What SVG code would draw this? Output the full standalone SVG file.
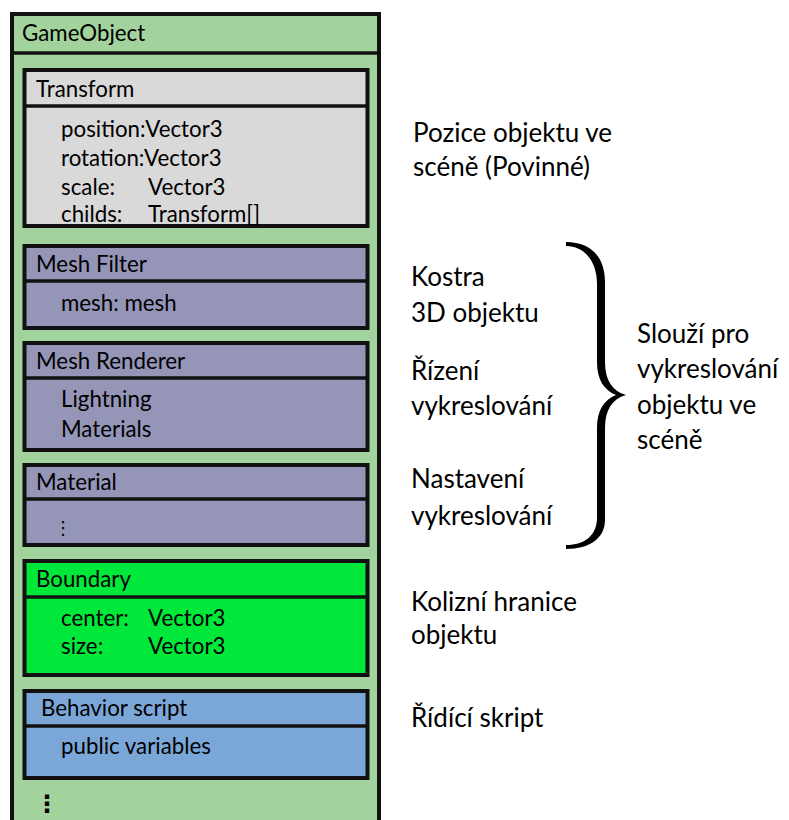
<svg xmlns="http://www.w3.org/2000/svg" width="789" height="820" viewBox="0 0 789 820">
<style>
  .t { font-family: Lato, "Open Sans", "Liberation Sans", sans-serif; font-size: 22.3px; fill: #000; }
  .r { font-family: Lato, "Open Sans", "Liberation Sans", sans-serif; font-size: 26px; fill: #000; }
  .box { stroke: #111; stroke-width: 4; }
  .div { stroke: #111; stroke-width: 3.5; }
  .gray { fill: #d9d9d9; }
  .purple { fill: #9595b8; }
  .lime { fill: #00e83a; }
  .blue { fill: #7ba7d8; }
</style>
<rect width="789" height="820" fill="#ffffff"/>
<g id="gameobject">
  <rect class="box" x="12" y="14" width="367" height="830" fill="#a3d39c"/>
  <line class="div" x1="12" y1="53" x2="379" y2="53"/>
  <text class="t" x="22" y="41">GameObject</text>
  <text x="35" y="812" font-family="DejaVu Sans, sans-serif" font-size="24" font-weight="bold" fill="#000">⋮</text>
</g>
<g id="transform">
  <rect class="box gray" x="24.5" y="70" width="343" height="156"/>
  <line class="div" x1="24.5" y1="106" x2="367.5" y2="106"/>
  <text class="t" x="36" y="97">Transform</text>
  <text class="t" x="61" y="137">position:Vector3</text>
  <text class="t" x="61" y="166">rotation:Vector3</text>
  <text class="t" x="61" y="195">scale:</text>
  <text class="t" x="148" y="195">Vector3</text>
  <text class="t" x="61" y="222">childs:</text>
  <text class="t" x="148" y="222">Transform[]</text>
</g>
<g id="meshfilter">
  <rect class="box purple" x="24.5" y="246" width="343" height="82"/>
  <line class="div" x1="24.5" y1="281" x2="367.5" y2="281"/>
  <text class="t" x="36" y="272">Mesh Filter</text>
  <text class="t" x="61" y="311">mesh: mesh</text>
</g>
<g id="meshrenderer">
  <rect class="box purple" x="24.5" y="343" width="343" height="107"/>
  <line class="div" x1="24.5" y1="378" x2="367.5" y2="378"/>
  <text class="t" x="36" y="369">Mesh Renderer</text>
  <text class="t" x="61" y="407">Lightning</text>
  <text class="t" x="61" y="437">Materials</text>
</g>
<g id="material">
  <rect class="box purple" x="24.5" y="465" width="343" height="80"/>
  <line class="div" x1="24.5" y1="499" x2="367.5" y2="499"/>
  <text class="t" x="36" y="490">Material</text>
  <text x="54" y="534" font-family="DejaVu Sans, sans-serif" font-size="18" fill="#000">⋮</text>
</g>
<g id="boundary">
  <rect class="box lime" x="24.5" y="561" width="343" height="114"/>
  <line class="div" x1="24.5" y1="597" x2="367.5" y2="597"/>
  <text class="t" x="36" y="587">Boundary</text>
  <text class="t" x="61" y="626">center:</text>
  <text class="t" x="148" y="626">Vector3</text>
  <text class="t" x="61" y="654">size:</text>
  <text class="t" x="148" y="654">Vector3</text>
</g>
<g id="behavior">
  <rect class="box blue" x="24.5" y="691" width="343" height="87"/>
  <line class="div" x1="24.5" y1="726" x2="367.5" y2="726"/>
  <text class="t" x="41" y="716">Behavior script</text>
  <text class="t" x="61" y="754">public variables</text>
</g>
<g id="labels">
  <text class="r" x="413" y="142">Pozice objektu ve</text>
  <text class="r" x="413" y="176">scéně (Povinné)</text>
  <text class="r" x="411" y="286">Kostra</text>
  <text class="r" x="411" y="322">3D objektu</text>
  <text class="r" x="411" y="380">Řízení</text>
  <text class="r" x="411" y="415">vykreslování</text>
  <text class="r" x="411" y="488">Nastavení</text>
  <text class="r" x="411" y="525">vykreslování</text>
  <text class="r" x="411" y="611">Kolizní hranice</text>
  <text class="r" x="411" y="644">objektu</text>
  <text class="r" x="411" y="727">Řídící skript</text>
  <text class="r" x="637" y="343">Slouží pro</text>
  <text class="r" x="637" y="378">vykreslování</text>
  <text class="r" x="637" y="414">objektu ve</text>
  <text class="r" x="637" y="449">scéně</text>
</g>
<g id="connectors">
  <path id="brace" fill="#000" d="M566,242 C590,242 605,256 605,282 L605,362 C605,380 612,391 626,395 C612,399 605,410 605,428 L605,520 C605,538 590,549 566,549 L566,545 C585,545 597,535 597,518 L597,428 C597,410 604,400 616,395 C604,390 597,380 597,362 L597,284 C597,262 585,246 566,246 Z"/>
</g>
</svg>
